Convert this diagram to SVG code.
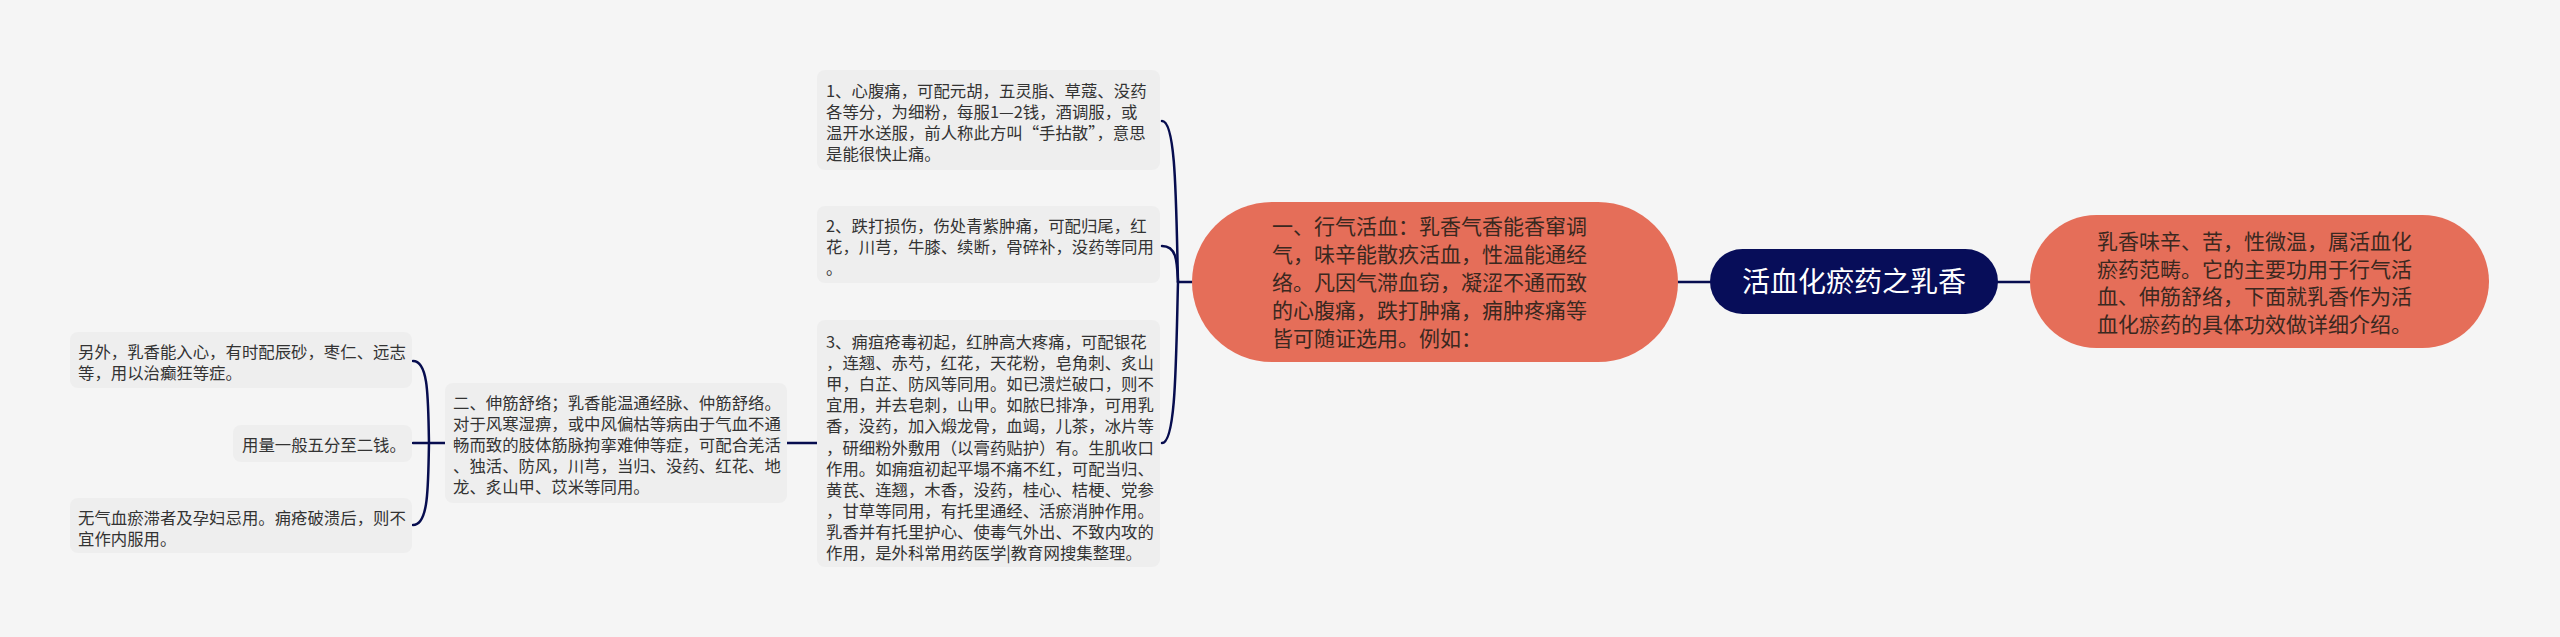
<svg xmlns="http://www.w3.org/2000/svg" width="2560" height="637" viewBox="0 0 2560 637">
<style>
.bg{fill:#f5f5f5}
.leaf{fill:#eeeeee}
.orange{fill:#e56e59}
.root{fill:#070d59}
.t{font-family:"Noto Sans CJK SC","Noto Sans",sans-serif;font-size:16.4px;fill:#333333}
.tb{font-family:"Noto Sans CJK SC","Noto Sans",sans-serif;font-size:21px;fill:#3a2820}
.tr{font-family:"Noto Sans CJK SC","Noto Sans",sans-serif;font-size:28px;fill:#ffffff}
.c{fill:none;stroke:#070d4f;stroke-width:2.5;stroke-linecap:round}
</style>
<rect class="bg" x="0" y="0" width="2560" height="637"/>
<g id="connectors">
<path class="c" d="M1710,282 L1678,282"/>
<path class="c" d="M1998,282 L2030,282"/>
<path class="c" d="M1192,282 L1178,282"/>
<path class="c" d="M1178,282 C1176,200 1176,121 1162,121"/>
<path class="c" d="M1178,282 C1177,262 1177,246 1162,246"/>
<path class="c" d="M1178,282 C1176,360 1176,443 1162,443"/>
<path class="c" d="M787,443 L817,443"/>
<path class="c" d="M445,443 L429,443"/>
<path class="c" d="M429,443 C428,400 429,361 413,361"/>
<path class="c" d="M429,443 L413,443"/>
<path class="c" d="M429,443 C428,485 429,525 413,525"/>
</g>
<g id="root">
<rect class="root" x="1710" y="249" width="288" height="65" rx="32.5"/>
<text class="tr" x="1854" y="292" text-anchor="middle">活血化瘀药之乳香</text>
</g>
<g id="intro">
<rect class="orange" x="2030" y="215" width="459" height="133" rx="66.5"/>
<text class="tb"><tspan x="2097" y="249">乳香味辛、苦，性微温，属活血化</tspan><tspan x="2097" y="276.5">瘀药范畴。它的主要功用于行气活</tspan><tspan x="2097" y="304">血、伸筋舒络，下面就乳香作为活</tspan><tspan x="2097" y="331.5">血化瘀药的具体功效做详细介绍。</tspan></text>
</g>
<g id="branch1">
<rect class="orange" x="1192" y="202" width="486" height="160" rx="80"/>
<text class="tb"><tspan x="1272" y="234">一、行气活血：乳香气香能香窜调</tspan><tspan x="1272" y="262">气，味辛能散疚活血，性温能通经</tspan><tspan x="1272" y="290">络。凡因气滞血窃，凝涩不通而致</tspan><tspan x="1272" y="318">的心腹痛，跌打肿痛，痈肿疼痛等</tspan><tspan x="1272" y="346">皆可随证选用。例如：</tspan></text>
</g>
<g id="leaf1">
<rect class="leaf" x="817" y="70" width="343" height="100" rx="8"/>
<text class="t"><tspan x="826" y="97">1、心腹痛，可配元胡，五灵脂、草蔻、没药</tspan><tspan x="826" y="118">各等分，为细粉，每服1—2钱，酒调服，或</tspan><tspan x="826" y="139">温开水送服，前人称此方叫“手拈散”，意思</tspan><tspan x="826" y="160">是能很快止痛。</tspan></text>
</g>
<g id="leaf2">
<rect class="leaf" x="817" y="206" width="343" height="77" rx="8"/>
<text class="t"><tspan x="826" y="232">2、跌打损伤，伤处青紫肿痛，可配归尾，红</tspan><tspan x="826" y="253">花，川芎，牛膝、续断，骨碎补，没药等同用</tspan><tspan x="826" y="274">。</tspan></text>
</g>
<g id="leaf3">
<rect class="leaf" x="817" y="320" width="343" height="247" rx="8"/>
<text class="t"><tspan x="826" y="348">3、痈疽疮毒初起，红肿高大疼痛，可配银花</tspan><tspan x="826" y="369.1">，连翘、赤芍，红花，天花粉，皂角刺、炙山</tspan><tspan x="826" y="390.2">甲，白芷、防风等同用。如已溃烂破口，则不</tspan><tspan x="826" y="411.3">宜用，并去皂刺，山甲。如脓巳排净，可用乳</tspan><tspan x="826" y="432.4">香，没药，加入煅龙骨，血竭，儿茶，冰片等</tspan><tspan x="826" y="453.5">，研细粉外敷用（以膏药贴护）有。生肌收口</tspan><tspan x="826" y="474.6">作用。如痈疽初起平塌不痛不红，可配当归、</tspan><tspan x="826" y="495.7">黄芪、连翘，木香，没药，桂心、桔梗、党参</tspan><tspan x="826" y="516.8">，甘草等同用，有托里通经、活瘀消肿作用。</tspan><tspan x="826" y="537.9">乳香并有托里护心、使毒气外出、不致内攻的</tspan><tspan x="826" y="559">作用，是外科常用药医学|教育网搜集整理。</tspan></text>
</g>
<g id="branch2">
<rect class="leaf" x="445" y="383" width="342" height="120" rx="8"/>
<text class="t"><tspan x="453" y="409">二、伸筋舒络；乳香能温通经脉、仲筋舒络。</tspan><tspan x="453" y="430">对于风寒湿痹，或中风偏枯等病由于气血不通</tspan><tspan x="453" y="451">畅而致的肢体筋脉拘挛难伸等症，可配合羌活</tspan><tspan x="453" y="472">、独活、防风，川芎，当归、没药、红花、地</tspan><tspan x="453" y="493">龙、炙山甲、苡米等同用。</tspan></text>
</g>
<g id="left1">
<rect class="leaf" x="70" y="332" width="342" height="56" rx="8"/>
<text class="t"><tspan x="78" y="358">另外，乳香能入心，有时配辰砂，枣仁、远志</tspan><tspan x="78" y="379">等，用以治癫狂等症。</tspan></text>
</g>
<g id="left2">
<rect class="leaf" x="233" y="425" width="179" height="37" rx="8"/>
<text class="t" x="242" y="451">用量一般五分至二钱。</text>
</g>
<g id="left3">
<rect class="leaf" x="70" y="498" width="342" height="55" rx="8"/>
<text class="t"><tspan x="78" y="524">无气血瘀滞者及孕妇忌用。痈疮破溃后，则不</tspan><tspan x="78" y="545">宜作内服用。</tspan></text>
</g>
</svg>
